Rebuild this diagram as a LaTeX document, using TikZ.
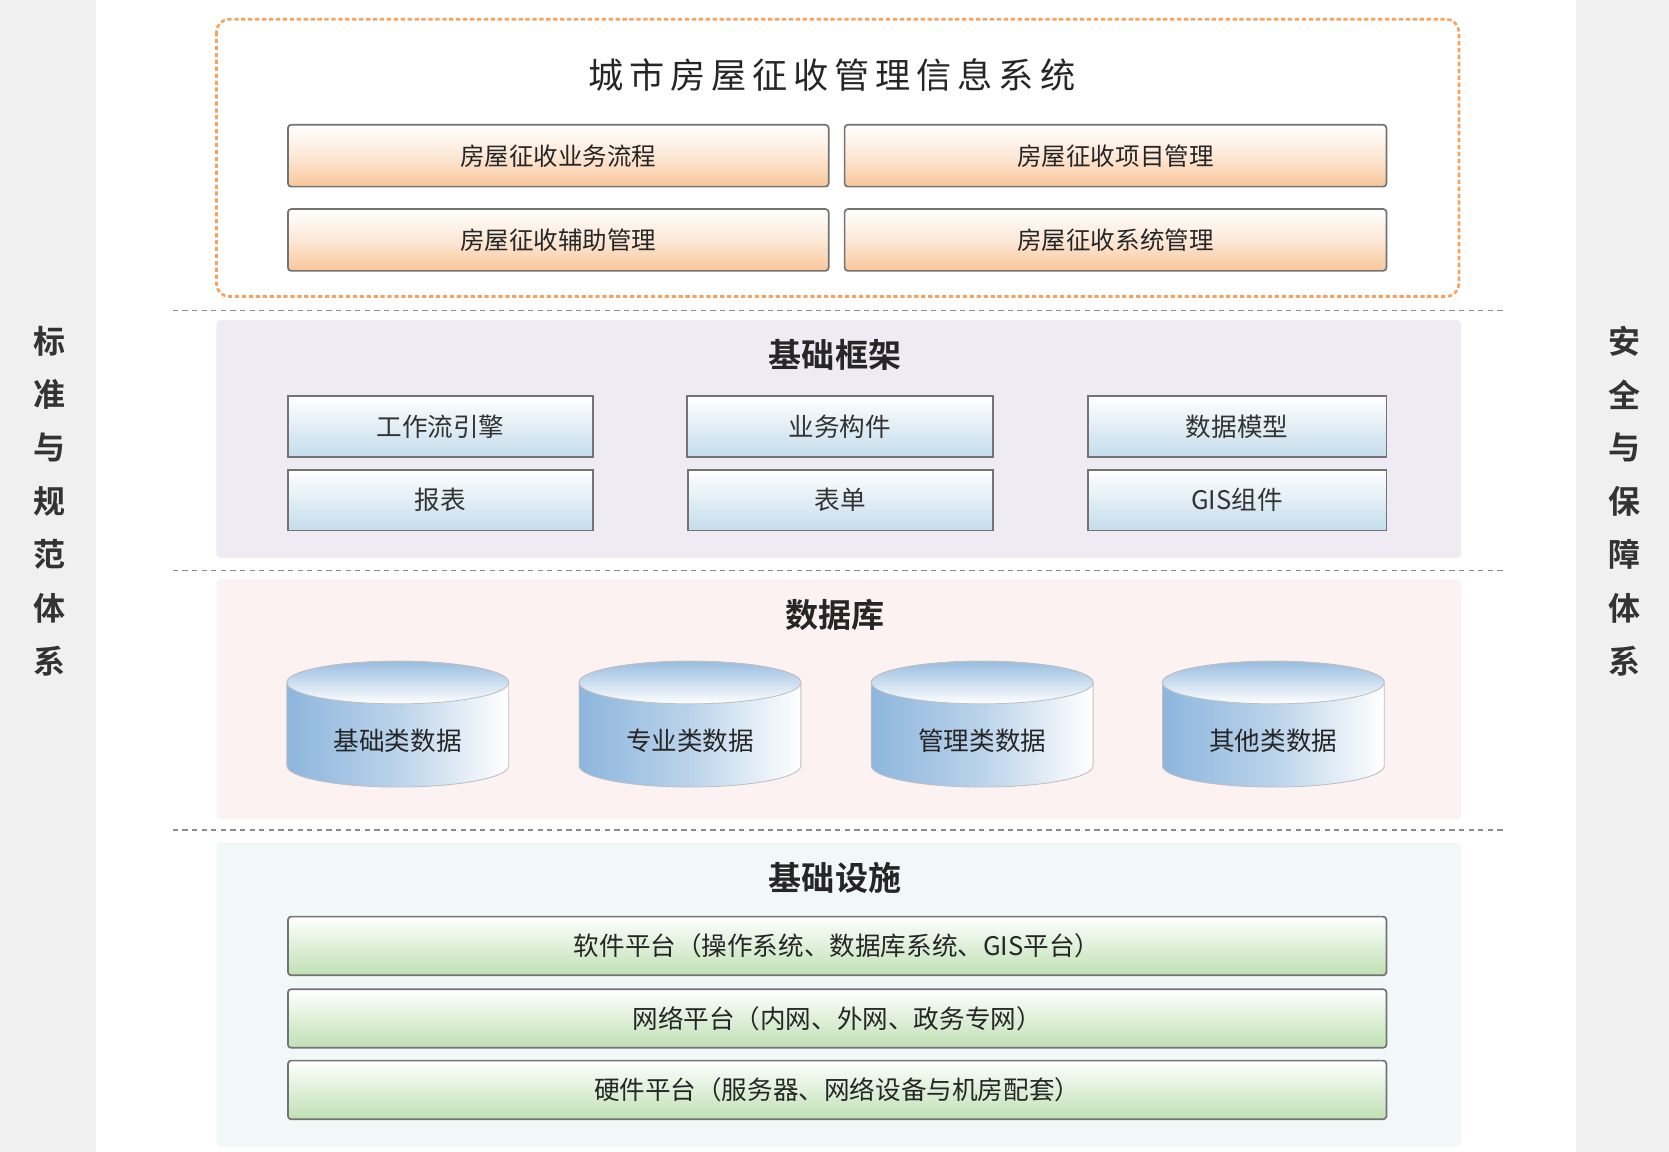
\documentclass[tikz,border=0pt]{standalone}
\usepackage{fontspec}
\setmainfont{Noto Sans CJK SC}
\newfontfamily\cjkb{Noto Sans CJK SC Bold}
\usetikzlibrary{shapes.geometric}
\definecolor{org}{HTML}{F4A460}
\definecolor{orgf}{HTML}{F9C69A}
\definecolor{bluef}{HTML}{C4DCEC}
\definecolor{greenf}{HTML}{BFE0B4}
\definecolor{cylb}{HTML}{8DB6DD}
\tikzset{
 band/.style={fill=black!6,draw=none},
 sidetxt/.style={font=\fontsize{30}{30}\selectfont\cjkb,text=black!80},
 panel/.style={draw=none,rounded corners=4},
 ptitle/.style={font=\fontsize{31}{31}\selectfont\cjkb,text=black!85},
 sep/.style={draw=black!45,dashed,line width=1.5pt,dash pattern=on 5pt off 4pt},
 obox/.style={draw=black!55,line width=1.6pt,rounded corners=3,top color=white,bottom color=orgf,middle color=orgf!40,font=\fontsize{23}{23}\selectfont,text=black!85},
 bbox/.style={draw=black!55,line width=1.4pt,top color=white,bottom color=bluef,font=\fontsize{24}{24}\selectfont,text=black!80},
 gbox/.style={draw=black!55,line width=1.6pt,rounded corners=3,top color=white,bottom color=greenf,font=\fontsize{24}{24}\selectfont,text=black!85},
 ctxt/.style={font=\fontsize{24}{24}\selectfont,text=black!85}
}
\begin{document}
\begin{tikzpicture}[x=1pt,y=-1pt]
\useasboundingbox (0,0) rectangle (1565,1080);
\fill[white] (0,0) rectangle (1565,1080);
\fill[band] (0,0) rectangle (90,1080);
\fill[band] (1478,0) rectangle (1565,1080);
\foreach \c [count=\i from 0] in {标,准,与,规,范,体,系}
  \node[sidetxt] (l\i) at (46,320+\i*50) {\c};
\foreach \c [count=\i from 0] in {安,全,与,保,障,体,系}
  \node[sidetxt] (r\i) at (1523,320+\i*50) {\c};
% top
\draw[org,line width=2.5pt,dash pattern=on 4pt off 2.5pt,rounded corners=12] (203,18) rectangle (1368,278);
\node[font=\fontsize{33}{33}\selectfont,text=black!85] (t0) at (780,70) {城\,市\,房\,屋\,征\,收\,管\,理\,信\,息\,系\,统};
\node[obox,minimum width=507,minimum height=58] (o1) at (523.5,146) {房屋征收业务流程};
\node[obox,minimum width=508,minimum height=58] (o2) at (1046,146) {房屋征收项目管理};
\node[obox,minimum width=507,minimum height=58] (o3) at (523.5,225) {房屋征收辅助管理};
\node[obox,minimum width=508,minimum height=58] (o4) at (1046,225) {房屋征收系统管理};
\foreach \y in {291,535,778} \draw[sep] (162,\y) -- (1410,\y);
% framework
\fill[panel,fill={rgb,255:red,239;green,235;blue,243}] (203,300) rectangle (1370,523);
\node[ptitle] (t1) at (783,333) {基础框架};
\node[bbox,minimum width=286,minimum height=57] (b1) at (413,400) {工作流引擎};
\node[bbox,minimum width=287,minimum height=57] (b2) at (787.5,400) {业务构件};
\node[bbox,minimum width=280,minimum height=57] (b3) at (1160,400) {数据模型};
\node[bbox,minimum width=286,minimum height=57] (b4) at (413,469) {报表};
\node[bbox,minimum width=286,minimum height=57] (b5) at (788,469) {表单};
\node[bbox,minimum width=280,minimum height=57] (b6) at (1160,469) {GIS组件};
% database
\fill[panel,fill={rgb,255:red,253;green,242;blue,242}] (203,543) rectangle (1370,768);
\node[ptitle] (t2) at (783,577) {数据库};
\foreach \x/\t [count=\i] in {373/基础类数据,647/专业类数据,921/管理类数据,1194/其他类数据}{
  \shade[left color=cylb,right color=white,middle color=cylb!60,draw=black!25,line width=0.8pt]
    (\x-104,640) -- (\x-104,718) arc[start angle=180,end angle=0,x radius=104,y radius=20] -- (\x+104,640) arc[start angle=0,end angle=-180,x radius=104,y radius=20] -- cycle;
  \shade[top color=cylb!90,bottom color=white,draw=black!25,line width=0.8pt] (\x,640) ellipse[x radius=104,y radius=20];
  \node[ctxt] (c\i) at (\x,695) {\t};
}
% infra
\fill[panel,fill={rgb,255:red,242;green,248;blue,248}] (203,790) rectangle (1370,1075);
\node[ptitle] (t3) at (783,823) {基础设施};
\node[gbox,minimum width=1030,minimum height=55] (g1) at (785,887) {软件平台（操作系统、数据库系统、GIS平台）};
\node[gbox,minimum width=1030,minimum height=55] (g2) at (785,955) {网络平台（内网、外网、政务专网）};
\node[gbox,minimum width=1030,minimum height=55] (g3) at (785,1022) {硬件平台（服务器、网络设备与机房配套）};
\end{tikzpicture}
\end{document}
